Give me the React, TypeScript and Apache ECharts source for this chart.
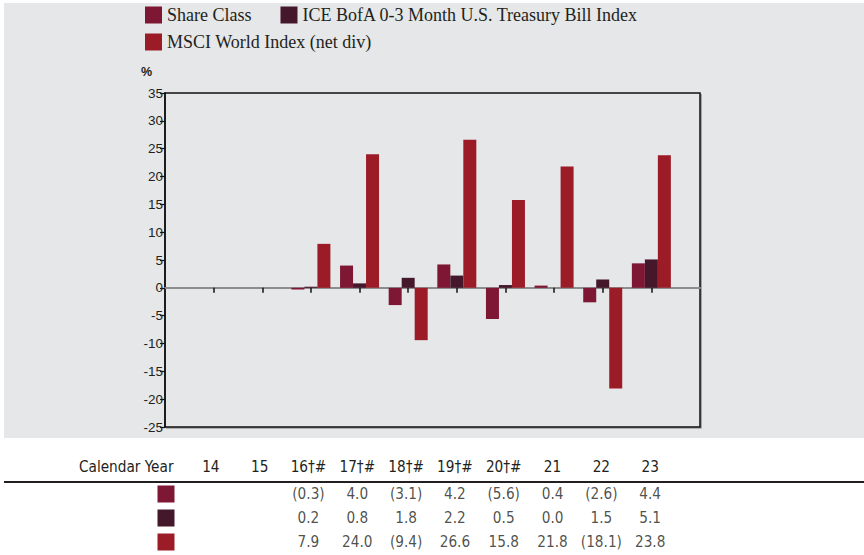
import React, { useEffect, useRef } from "react";
import * as echarts from "echarts";

// ---- data ----
const years = ["14", "15", "16†#", "17†#", "18†#", "19†#", "20†#", "21", "22", "23"];
const shareClass: (number | null)[] = [null, null, -0.3, 4.0, -3.1, 4.2, -5.6, 0.4, -2.6, 4.4];
const iceBofA: (number | null)[] = [null, null, 0.2, 0.8, 1.8, 2.2, 0.5, 0.0, 1.5, 5.1];
const msciWorld: (number | null)[] = [null, null, 7.9, 24.0, -9.4, 26.6, 15.8, 21.8, -18.1, 23.8];
const seriesNames = [
  "Share Class",
  "ICE BofA 0-3 Month U.S. Treasury Bill Index",
  "MSCI World Index (net div)",
];
const yMin = -25;
const yMax = 35;
const yInterval = 5;

// ---- styles ----
const colors = ["#7e1734", "#44172b", "#9b1b27"];
const ink = "#231f20";
const serif = "'Liberation Serif', 'Times New Roman', serif";
const sans = "'Liberation Sans', Arial, sans-serif";
const narrow = "'DejaVu Sans Condensed', 'Liberation Sans Narrow', sans-serif";
const narrowSize = 15.2;

const fmt = (v: number) => (v < 0 ? `(${Math.abs(v).toFixed(1)})` : v.toFixed(1));

export default function App() {
  const ref = useRef<HTMLDivElement>(null);

  useEffect(() => {
    if (!ref.current) return;
    const chart = echarts.init(ref.current, undefined, { renderer: "svg" });
    const cats = ["", ...years, ""];
    const pad = (arr: (number | null)[]) => [null, ...arr, null];
    const rows = [shareClass, iceBofA, msciWorld];

    const barSeries = rows.map((arr, i) => ({
      type: "bar",
      name: seriesNames[i],
      xAxisIndex: 0,
      yAxisIndex: 0,
      data: pad(arr),
      barWidth: 13,
      barGap: "0%",
      itemStyle: { color: colors[i] },
    }));

    const tableSeries = rows.map((arr, r) => ({
      type: "scatter",
      name: "table-" + r,
      xAxisIndex: 1,
      yAxisIndex: 1,
      clip: false,
      symbolSize: 1,
      itemStyle: { color: "rgba(0,0,0,0)" },
      data: arr
        .map((v, i) => (v == null ? null : [i + 1, r, v]))
        .filter((d) => d !== null),
      label: {
        show: true,
        position: "inside",
        formatter: (p: any) => fmt(p.value[2]),
        fontFamily: narrow,
        fontSize: narrowSize,
        color: ink,
      },
    }));

    const keySeries = {
      type: "scatter",
      name: "table-keys",
      xAxisIndex: 1,
      yAxisIndex: 1,
      clip: false,
      symbol: "rect",
      symbolSize: 17,
      symbolOffset: [4, 0],
      data: rows.map((_, r) => ({ value: [0, r], itemStyle: { color: colors[r], opacity: 1 } })),
    };

    const legendText = { fontFamily: serif, fontSize: 18, color: ink };

    chart.setOption({
      animation: false,
      graphic: [
        {
          type: "rect",
          z: -10,
          silent: true,
          shape: { x: 4, y: 3, width: 860, height: 435 },
          style: { fill: "#e6e7e8" },
        },
        {
          type: "polyline",
          z: -5,
          silent: true,
          shape: { points: [[166, 428], [701, 428], [701, 94]] },
          style: { stroke: "#7a7a7a", lineWidth: 1.2, fill: null },
        },
        {
          type: "line",
          silent: true,
          shape: { x1: 4, y1: 482, x2: 864, y2: 482 },
          style: { stroke: ink, lineWidth: 2 },
        },
        {
          type: "text",
          silent: true,
          x: 173.5,
          y: 466.5,
          style: {
            text: "Calendar Year",
            align: "right",
            verticalAlign: "middle",
            fontFamily: narrow,
            fontSize: narrowSize,
            fill: ink,
          },
        },
      ],
      legend: [
        {
          data: [seriesNames[0], seriesNames[1]],
          left: 145,
          top: 6,
          padding: 0,
          itemWidth: 17,
          itemHeight: 17,
          itemGap: 29,
          icon: "rect",
          selectedMode: false,
          textStyle: legendText,
        },
        {
          data: [seriesNames[2]],
          left: 145,
          top: 33,
          padding: 0,
          itemWidth: 17,
          itemHeight: 17,
          icon: "rect",
          selectedMode: false,
          textStyle: legendText,
        },
      ],
      grid: [
        {
          left: 165,
          top: 93,
          width: 535,
          height: 334,
          show: true,
          borderColor: "#111",
          borderWidth: 1.5,
          backgroundColor: "#e6e7e8",
        },
        {
          left: 162,
          top: 494,
          width: 537,
          height: 48,
          show: false,
        },
      ],
      xAxis: [
        {
          type: "category",
          gridIndex: 0,
          data: cats,
          boundaryGap: false,
          axisLine: {
            show: true,
            onZero: true,
            lineStyle: { color: "#8c8c8c", width: 2, type: [3, 1] },
          },
          axisTick: {
            show: true,
            interval: (i: number) => i > 0 && i < cats.length - 1,
            length: 5,
            lineStyle: { color: "#111", width: 1.5 },
          },
          axisLabel: { show: false },
          splitLine: { show: false },
        },
        {
          type: "category",
          gridIndex: 1,
          position: "top",
          data: cats,
          boundaryGap: false,
          axisLine: { show: false },
          axisTick: { show: false },
          splitLine: { show: false },
          axisLabel: {
            show: true,
            interval: 0,
            margin: 20,
            fontFamily: narrow,
            fontSize: narrowSize,
            color: ink,
          },
        },
      ],
      yAxis: [
        {
          type: "value",
          gridIndex: 0,
          min: yMin,
          max: yMax,
          interval: yInterval,
          name: "%",
          nameLocation: "end",
          nameGap: 15,
          nameTextStyle: {
            fontWeight: "bold",
            fontSize: 12.5,
            fontFamily: sans,
            color: ink,
            align: "right",
            padding: [0, 13, 0, 0],
          },
          axisLine: { show: true, lineStyle: { color: "#111", width: 1.5 } },
          axisTick: { show: true, length: 5, lineStyle: { color: "#111", width: 1.2 } },
          axisLabel: { fontSize: 13.5, fontFamily: sans, color: ink, margin: 2 },
          splitLine: { show: false },
        },
        {
          type: "category",
          gridIndex: 1,
          inverse: true,
          boundaryGap: false,
          data: ["0", "1", "2"],
          show: false,
        },
      ],
      series: [...barSeries, ...tableSeries, keySeries],
    });

    return () => chart.dispose();
  }, []);

  return (
    <div
      ref={ref}
      style={{ position: "absolute", left: 0, top: 0, width: 864, height: 555, background: "#fff" }}
    />
  );
}
